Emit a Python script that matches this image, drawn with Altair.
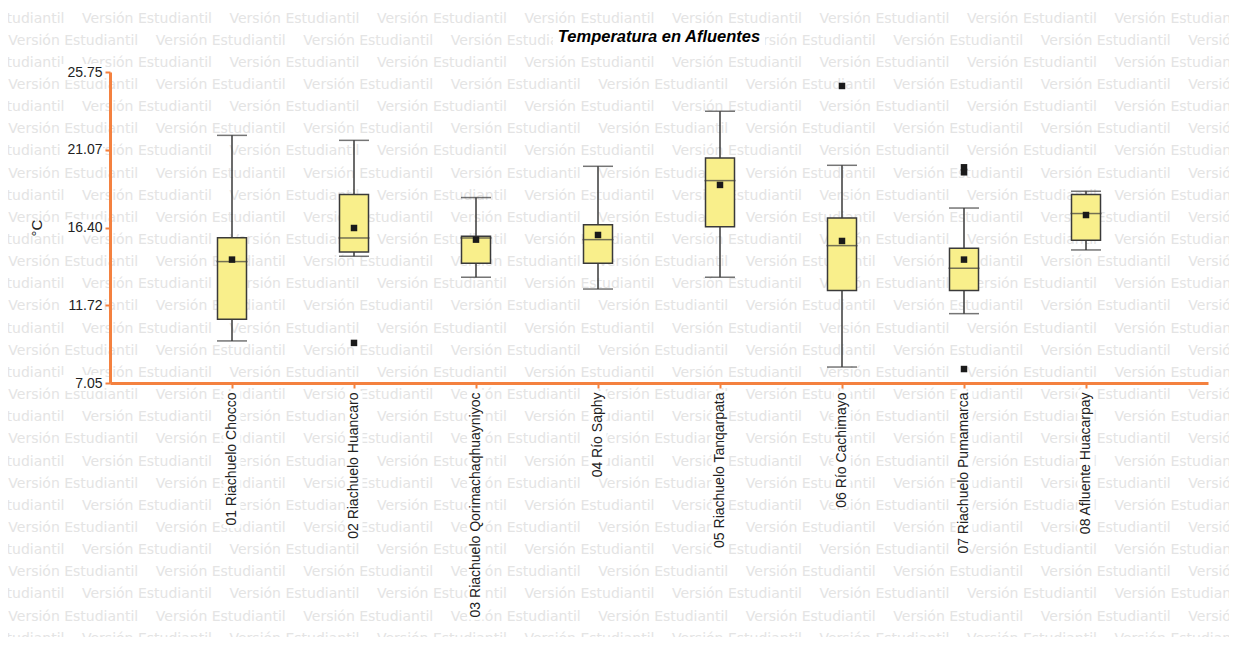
import altair as alt
import pandas as pd

# ---------------- data ----------------
sites = [
    "01 Riachuelo Chocco",
    "02 Riachuelo Huancaro",
    "03 Riachuelo Qorimachaqhuayniyoc",
    "04 Río Saphy",
    "05 Riachuelo Tanqarpata",
    "06 Río Cachimayo",
    "07 Riachuelo Pumamarca",
    "08 Afluente Huacarpay",
]
whisk_lo = [9.58, 14.67, 13.41, 12.70, 13.41, 8.01, 11.22, 15.05]
q1 = [10.88, 14.93, 14.25, 14.25, 16.45, 12.61, 12.61, 15.63]
median = [14.35, 15.77, 15.77, 15.67, 19.22, 15.31, 13.95, 17.24]
q3 = [15.79, 18.38, 15.87, 16.57, 20.58, 16.97, 15.15, 18.38]
whisk_hi = [21.94, 21.64, 18.20, 20.08, 23.39, 20.14, 17.57, 18.58]
mean = [14.47, 16.37, 15.67, 15.95, 18.96, 15.59, 14.47, 17.15]

outlier_sites = [sites[1], sites[5], sites[6], sites[6], sites[6]]
outlier_vals = [9.46, 24.91, 20.02, 19.72, 7.89]

y_ticks = [7.05, 11.72, 16.40, 21.07, 25.75]
y_labels = ["7.05", "11.72", "16.40", "21.07", "25.75"]
title_text = "Temperatura en Afluentes"
y_title = "°C"
watermark = "Versión Estudiantil"

# ---------------- styling ----------------
ORANGE = "#F4813F"
BOX_FILL = "#F9EF8B"
LINE = "#3a3a3a"
MARK = "#1a1a1a"
FONT = "Liberation Sans"
W, H = 1098, 311
Y_MIN, Y_MAX = 7.05, 25.75
PX = (Y_MAX - Y_MIN) / H  # data units per pixel

box_df = pd.DataFrame({
    "site": sites, "lo": whisk_lo, "q1": q1, "median": median,
    "q3": q3, "hi": whisk_hi, "mean": mean,
})
out_df = pd.DataFrame({"site": outlier_sites, "value": outlier_vals})

# white backgrounds behind the axis labels (the original draws labels on opaque boxes)
xbg_df = pd.DataFrame({
    "site": sites,
    "top": [Y_MIN - 8 * PX] * len(sites),
    "bot": [Y_MIN - (11 + 7.05 * len(s)) * PX for s in sites],
})
ybg_df = pd.DataFrame({
    "lab": y_labels,
    "a": [v - 8 * PX for v in y_ticks],
    "b": [v + 8 * PX for v in y_ticks],
})

# watermark grid (decorative background text), in view pixel coordinates
wm_rows = []
for k in range(29):
    yy = 18.5 + 22.15 * k - 72
    start = 8.3 if k % 2 == 1 else -65.5
    for j in range(10):
        xx = start + 147.5 * j - 110
        wm_rows.append({"wx": xx, "wy": yy, "t": watermark})
wm_df = pd.DataFrame(wm_rows)

wm = alt.Chart(wm_df).mark_text(
    align="left", baseline="middle", font="DejaVu Sans", fontSize=14,
    color="#e4e4e4",
).encode(
    x=alt.X("wx:Q", scale=None, axis=None),
    y=alt.Y("wy:Q", scale=None, axis=None),
    text="t:N",
)

title_df = pd.DataFrame({"t": [title_text]})
title_bg = alt.Chart(title_df).mark_rect(color="white").encode(
    x=alt.value(W / 2 - 106), x2=alt.value(W / 2 + 106),
    y=alt.value(-45), y2=alt.value(-24),
)
title_mark = alt.Chart(title_df).mark_text(
    align="center", baseline="middle", font=FONT, fontSize=16.5,
    fontStyle="italic", fontWeight="bold", color="#000000",
).encode(
    text="t:N", x=alt.value(W / 2), y=alt.value(-35),
)

x_enc = alt.X(
    "site:N", sort=sites,
    scale=alt.Scale(type="band", domain=sites, paddingInner=0, paddingOuter=0.5),
    axis=alt.Axis(
        title=None, labelAngle=-90, labelFontSize=14, labelFont=FONT,
        labelColor="#222222", labelPadding=4, tickSize=5, tickWidth=2,
        tickColor=ORANGE, domainColor=ORANGE, domainWidth=3, labelLimit=400,
        zindex=1,
    ),
)
y_scale = alt.Scale(domain=[Y_MIN, Y_MAX], nice=False, zero=False)
y_axis = alt.Axis(
    values=y_ticks, format=".2f", title=y_title, titleFont=FONT,
    titleFontSize=15, titleFontWeight="normal", titleColor="#222222",
    titlePadding=22, labelFontSize=14, labelFont=FONT, labelColor="#222222",
    tickSize=5, tickWidth=2, tickColor=ORANGE, domainColor=ORANGE,
    domainWidth=3, grid=False, labelPadding=3, zindex=1,
)

xbg = alt.Chart(xbg_df).mark_bar(size=17, color="white").encode(
    x=x_enc,
    y=alt.Y("top:Q", scale=y_scale, axis=y_axis),
    y2="bot:Q",
)
ybg = alt.Chart(ybg_df).mark_rect(color="white").encode(
    x=alt.value(-50), x2=alt.value(-7),
    y=alt.Y("a:Q"), y2="b:Q",
)

base = alt.Chart(box_df)

whiskers = base.mark_rule(color=LINE, strokeWidth=1.5).encode(
    x=x_enc, y=alt.Y("lo:Q"), y2="hi:Q",
)
caps_lo = base.mark_tick(color=LINE, thickness=1.5, size=30, orient="horizontal").encode(
    x=x_enc, y=alt.Y("lo:Q"),
)
caps_hi = base.mark_tick(color=LINE, thickness=1.5, size=30, orient="horizontal").encode(
    x=x_enc, y=alt.Y("hi:Q"),
)
boxes = base.mark_bar(
    size=29, fill=BOX_FILL, stroke=LINE, strokeWidth=1.5,
).encode(
    x=x_enc, y=alt.Y("q1:Q"), y2="q3:Q",
)
medians = base.mark_tick(color=LINE, thickness=1.5, size=31, orient="horizontal").encode(
    x=x_enc, y=alt.Y("median:Q"),
)
means = base.mark_square(size=42, color=MARK, opacity=1).encode(
    x=x_enc, y=alt.Y("mean:Q"),
)
outliers = alt.Chart(out_df).mark_square(size=42, color=MARK, opacity=1).encode(
    x=x_enc, y=alt.Y("value:Q"),
)

main = alt.layer(xbg, ybg, whiskers, caps_lo, caps_hi, boxes, medians, means, outliers)

chart = alt.layer(wm, title_bg, title_mark, main).resolve_scale(
    x="independent", y="independent"
).properties(
    width=W, height=H,
    background="white",
    autosize=alt.AutoSizeParams(type="none"),
    padding={"left": 102, "top": 64, "right": 21, "bottom": 254},
).configure_view(stroke=None)

chart.save("out.html", embed_options={"renderer": "svg", "actions": False})
